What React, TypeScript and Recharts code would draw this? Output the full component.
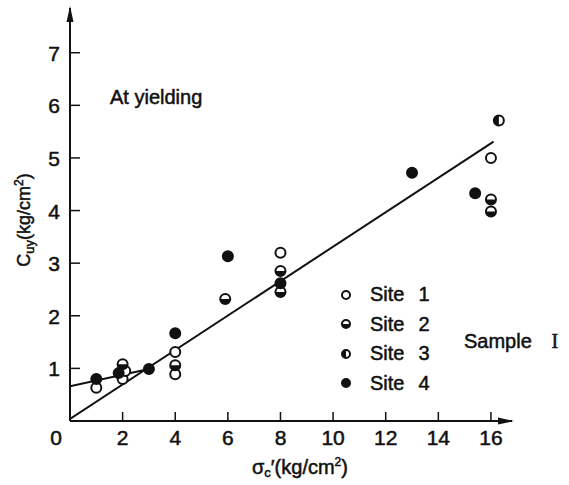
import React from "react";
import { Label, ReferenceDot, Scatter, ScatterChart, XAxis, YAxis } from "recharts";

// readings (sigma_c' in kg/cm2, C_uy in kg/cm2)
const site1 = [
  { x: 1, y: 0.63 },
  { x: 2, y: 0.8 },
  { x: 2.1, y: 0.95 },
  { x: 4, y: 0.89 },
  { x: 4, y: 1.31 },
  { x: 8, y: 3.2 },
  { x: 16, y: 5.0 },
];
const site2 = [
  { x: 2, y: 1.08 },
  { x: 4, y: 1.06 },
  { x: 5.9, y: 2.32 },
  { x: 8, y: 2.45 },
  { x: 8, y: 2.85 },
  { x: 16, y: 4.21 },
  { x: 16, y: 3.98 },
];
const site3 = [{ x: 16.3, y: 5.71 }];
const site4 = [
  { x: 1, y: 0.8 },
  { x: 1.85, y: 0.91 },
  { x: 3, y: 0.99 },
  { x: 4, y: 1.67 },
  { x: 6, y: 3.13 },
  { x: 8, y: 2.62 },
  { x: 13, y: 4.72 },
  { x: 15.4, y: 4.33 },
];
const lowFit = [
  { x: 0, y: 0.66 },
  { x: 3, y: 0.99 },
];
const mainFit = [
  { x: 0, y: 0.04 },
  { x: 16.1, y: 5.31 },
];

const xTicks = [0, 2, 4, 6, 8, 10, 12, 14, 16];
const yTicks = [1, 2, 3, 4, 5, 6, 7];
const siteNames = ["Site 1", "Site 2", "Site 3", "Site 4"];
const siteKinds = ["open", "lower", "left", "full"];

const FONT = "'Liberation Sans', Arial, sans-serif";
const INK = "#111";
const TXT = { fill: INK, stroke: INK, strokeWidth: 0.5, fontFamily: FONT };
const HTML_TXT: React.CSSProperties = {
  position: "absolute",
  fontFamily: FONT,
  fontSize: 20,
  color: INK,
  WebkitTextStroke: "0.5px #111",
  whiteSpace: "nowrap",
};

function Marker({ cx, cy, kind, r = 5 }: { cx: number; cy: number; kind: string; r?: number }) {
  let half = null;
  if (kind === "lower")
    half = <path d={`M${cx - r} ${cy} A${r} ${r} 0 0 0 ${cx + r} ${cy} Z`} fill={INK} />;
  if (kind === "left")
    half = <path d={`M${cx} ${cy - r} A${r} ${r} 0 0 0 ${cx} ${cy + r} Z`} fill={INK} />;
  return (
    <g>
      <circle cx={cx} cy={cy} r={r} fill={kind === "full" ? INK : "#fff"} stroke={INK} strokeWidth={2} />
      {half}
    </g>
  );
}

const shapeFor = (kind: string) => (p: any) => <Marker cx={p.cx} cy={p.cy} kind={kind} />;

function XTick({ x, y, payload }: any) {
  const v = payload.value;
  return (
    <g>
      {v !== 0 && <line x1={x} y1={y} x2={x} y2={y - 9} stroke={INK} strokeWidth={1.5} />}
      <text x={v === 0 ? x - 14 : x} y={y + 24} textAnchor="middle" fontSize={21} {...TXT}>
        {v}
      </text>
    </g>
  );
}

function YTick({ x, y, payload }: any) {
  return (
    <g>
      <line x1={x} y1={y} x2={x + 10} y2={y} stroke={INK} strokeWidth={1.5} />
      <text x={x - 10} y={y + 8} textAnchor="end" fontSize={21} {...TXT}>
        {payload.value}
      </text>
    </g>
  );
}

function YTitle() {
  return (
    <text transform="translate(30 220) rotate(-90)" textAnchor="middle" fontSize={18} {...TXT}>
      C<tspan fontSize={13} dy={4}>uy</tspan>
      <tspan dy={-4}>(kg/cm</tspan>
      <tspan fontSize={12} dy={-7}>2</tspan>
      <tspan dy={7}>)</tspan>
    </text>
  );
}

function XTitle() {
  return (
    <text x={300} y={474} textAnchor="middle" fontSize={20} {...TXT}>
      σ<tspan fontSize={13} dy={3}>c</tspan>
      <tspan dy={-3}>′(kg/cm</tspan>
      <tspan fontSize={12} dy={-8}>2</tspan>
      <tspan dy={8}>)</tspan>
    </text>
  );
}

const arrowUp = (p: any) => (
  <polygon points={`${p.cx},${p.cy - 2} ${p.cx - 3.5},${p.cy + 14} ${p.cx + 3.5},${p.cy + 14}`} fill={INK} />
);
const arrowRight = (p: any) => (
  <polygon points={`${p.cx + 2},${p.cy} ${p.cx - 14},${p.cy - 3.5} ${p.cx - 14},${p.cy + 3.5}`} fill={INK} />
);

function SiteLegend() {
  return (
    <div style={{ ...HTML_TXT, left: 338, top: 280 }}>
      {siteNames.map((name, i) => {
        const [word, num] = name.split(" ");
        return (
          <div key={name} style={{ display: "flex", alignItems: "center", height: 29.5 }}>
            <svg width={16} height={16}>
              <Marker cx={8} cy={8} kind={siteKinds[i]} r={4} />
            </svg>
            <span style={{ marginLeft: 16 }}>{word}</span>
            <span style={{ marginLeft: 14 }}>{num}</span>
          </div>
        );
      })}
    </div>
  );
}

export default function App() {
  return (
    <div style={{ position: "absolute", left: 0, top: 0, width: 569, height: 485, background: "#fff" }}>
      <ScatterChart width={569} height={485} margin={{ top: 8, right: 57, bottom: 0, left: 0 }}>
        <XAxis
          type="number"
          dataKey="x"
          domain={[0, 16.8]}
          ticks={xTicks}
          interval={0}
          tick={<XTick />}
          tickSize={0}
          tickMargin={0}
          height={64}
          axisLine={{ stroke: INK, strokeWidth: 2 }}
          allowDataOverflow
        >
          <Label content={<XTitle />} />
        </XAxis>
        <YAxis
          type="number"
          dataKey="y"
          domain={[0, 7.85]}
          ticks={yTicks}
          interval={0}
          tick={<YTick />}
          tickSize={0}
          tickMargin={0}
          width={70}
          axisLine={{ stroke: INK, strokeWidth: 2 }}
          allowDataOverflow
        >
          <Label content={<YTitle />} />
        </YAxis>
        <Scatter data={lowFit} line={{ stroke: INK, strokeWidth: 2 }} shape={() => <g />} isAnimationActive={false} />
        <Scatter data={mainFit} line={{ stroke: INK, strokeWidth: 2 }} shape={() => <g />} isAnimationActive={false} />
        <Scatter name="Site 1" data={site1} shape={shapeFor("open")} isAnimationActive={false} />
        <Scatter name="Site 2" data={site2} shape={shapeFor("lower")} isAnimationActive={false} />
        <Scatter name="Site 3" data={site3} shape={shapeFor("left")} isAnimationActive={false} />
        <Scatter name="Site 4" data={site4} shape={shapeFor("full")} isAnimationActive={false} />
        <ReferenceDot x={0} y={7.85} r={0} shape={arrowUp} ifOverflow="visible" />
        <ReferenceDot x={16.8} y={0} r={0} shape={arrowRight} ifOverflow="visible" />
      </ScatterChart>
      <SiteLegend />
      <div style={{ ...HTML_TXT, left: 110, top: 86 }}>At yielding</div>
      <div style={{ ...HTML_TXT, left: 464, top: 330 }}>
        Sample <span style={{ marginLeft: 14, fontFamily: "'Liberation Serif', serif" }}>I</span>
      </div>
    </div>
  );
}
